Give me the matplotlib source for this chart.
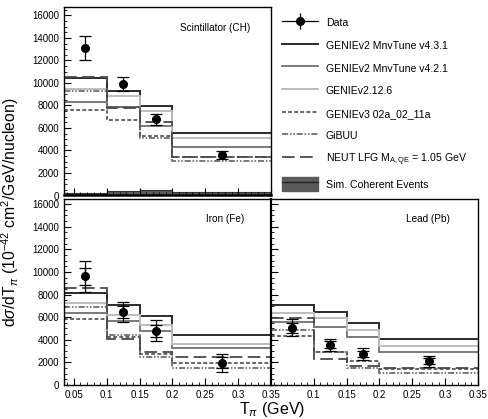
import numpy as np
import matplotlib
matplotlib.use("Agg")
import matplotlib.pyplot as plt
from matplotlib.lines import Line2D
from matplotlib.patches import Patch
from matplotlib.ticker import MultipleLocator

plt.rcParams['font.family'] = ['Liberation Sans', 'DejaVu Sans']
plt.rcParams['mathtext.fontset'] = 'custom'
plt.rcParams['mathtext.rm'] = 'Liberation Sans'
plt.rcParams['mathtext.it'] = 'Liberation Sans:italic'

# pion kinetic energy bins (GeV)
edges = [0.035, 0.1, 0.15, 0.2, 0.35]
centers = [0.0675, 0.125, 0.175, 0.275]

# measured cross sections, 10^-42 cm^2/GeV/nucleon
ch_data = [13100, 9900, 6780, 3600]
ch_tot = [1050, 620, 480, 360]
fe_data = [9600, 6460, 4800, 1960]
fe_stat = [750, 500, 550, 480]
fe_tot = [1380, 900, 950, 820]
pb_data = [5050, 3550, 2750, 2110]
pb_stat = [420, 300, 300, 280]
pb_tot = [760, 520, 500, 480]

# model predictions
ch_v431 = [10400, 9300, 7920, 5560]
ch_v421 = [8350, 7850, 6150, 4300]
ch_g2126 = [9450, 8800, 7480, 5080]
ch_g3 = [7600, 6750, 5300, 3400]
ch_gibuu = [9300, 7900, 5100, 3050]
ch_neut = [10500, 7800, 6500, 3450]
ch_coh = [180, 380, 460, 350]

fe_v431 = [8160, 7100, 6100, 4460]
fe_v421 = [6400, 5670, 4800, 3290]
fe_g2126 = [7280, 6220, 5300, 3670]
fe_g3 = [5840, 4250, 2750, 1960]
fe_gibuu = [6900, 4400, 2450, 1525]
fe_neut = [8600, 4050, 2950, 2440]

pb_v431 = [7080, 6480, 5500, 4040]
pb_v421 = [5580, 5170, 4280, 2935]
pb_g2126 = [6370, 5900, 4840, 3480]
pb_g3 = [4330, 2935, 2130, 1400]
pb_gibuu = [4900, 2935, 1540, 1020]
pb_neut = [5900, 2270, 1700, 1525]

styles = {
    'v431': dict(color='#2b2b2b', lw=1.4, ls='-'),
    'v421': dict(color='#7a7a7a', lw=1.4, ls='-'),
    'g2126': dict(color='#bdbdbd', lw=1.4, ls='-'),
    'g3': dict(color='#3a3a3a', lw=1.1, ls=(0, (2.5, 1.5))),
    'gibuu': dict(color='#555555', lw=1.1, ls=(0, (4, 1.2, 1, 1.2, 1, 1.2))),
    'neut': dict(color='#4a4a4a', lw=1.3, ls=(0, (7, 3))),
}

W, H = 489, 419
fig = plt.figure(figsize=(W / 100, H / 100), dpi=100)


def px_axes(x0, y0, x1, y1):
    return fig.add_axes([x0 / W, 1 - y1 / H, (x1 - x0) / W, (y1 - y0) / H])


ax_ch = px_axes(64, 7, 271, 195.5)
ax_fe = px_axes(64, 199, 271, 385)
ax_pb = px_axes(271, 199, 478, 385)


def draw_panel(ax, models, data, stat, tot, title, title_x, coh=None):
    if coh is not None:
        ax.stairs(coh, edges, fill=True, color='#5a5a5a', zorder=1)
        ax.stairs(coh, edges, color='#333333', lw=0.8, zorder=1)
    for key, vals in models:
        ax.stairs(vals, edges, baseline=None, zorder=2, **styles[key])
    ax.errorbar(centers, data, yerr=tot, fmt='o', color='black', ms=5.5,
                elinewidth=0.9, capsize=4, capthick=0.9, zorder=4)
    if stat is not None:
        ax.errorbar(centers, data, yerr=stat, fmt='none', color='black',
                    elinewidth=0.9, capsize=4, capthick=0.9, zorder=4)
    ax.set_xlim(edges[0], edges[-1])
    ax.xaxis.set_major_locator(MultipleLocator(0.05))
    ax.xaxis.set_minor_locator(MultipleLocator(0.01))
    ax.yaxis.set_major_locator(MultipleLocator(2000))
    ax.yaxis.set_minor_locator(MultipleLocator(500))
    ax.tick_params(which='both', direction='in', labelsize=7, top=False, right=False)
    ax.tick_params(which='major', length=5, width=0.8)
    ax.tick_params(which='minor', length=2.5, width=0.6)
    for sp in ax.spines.values():
        sp.set_linewidth(1.0)
    ax.text(title_x, 0.89, title, transform=ax.transAxes, ha='center', va='center', fontsize=7.2)


draw_panel(ax_ch, [('v431', ch_v431), ('v421', ch_v421), ('g2126', ch_g2126),
                   ('g3', ch_g3), ('gibuu', ch_gibuu), ('neut', ch_neut)],
           ch_data, None, ch_tot, 'Scintillator (CH)', 0.73, coh=ch_coh)
draw_panel(ax_fe, [('v431', fe_v431), ('v421', fe_v421), ('g2126', fe_g2126),
                   ('g3', fe_g3), ('gibuu', fe_gibuu), ('neut', fe_neut)],
           fe_data, fe_stat, fe_tot, 'Iron (Fe)', 0.78)
draw_panel(ax_pb, [('v431', pb_v431), ('v421', pb_v421), ('g2126', pb_g2126),
                   ('g3', pb_g3), ('gibuu', pb_gibuu), ('neut', pb_neut)],
           pb_data, pb_stat, pb_tot, 'Lead (Pb)', 0.76)

ax_ch.set_ylim(0, 16750)
ax_ch.tick_params(labelbottom=False)
ax_ch.spines['bottom'].set_linewidth(1.8)
for ax in (ax_fe, ax_pb):
    ax.set_ylim(0, 16450)
ax_pb.tick_params(labelleft=False)
ax_pb.set_xticks([0.1, 0.15, 0.2, 0.25, 0.3, 0.35])
ax_pb.set_xticklabels(['0.1', '0.15', '0.2', '0.25', '0.3', '0.35'])
ax_fe.set_xticks([0.05, 0.1, 0.15, 0.2, 0.25, 0.3, 0.35])
ax_fe.set_xticklabels(['0.05', '0.1', '0.15', '0.2', '0.25', '0.3', '0.35'])
ax_pb.spines['left'].set_linewidth(1.6)

fig.text(10 / W, 1 - 212 / H, r'd$\sigma$/dT$_{\pi}$ (10$^{-42}$ cm$^{2}$/GeV/nucleon)',
         rotation=90, ha='center', va='center', fontsize=11.3)
fig.text(272 / W, 1 - 409 / H, r'T$_{\pi}$ (GeV)', ha='center', va='center', fontsize=11.5)

# data entry: horizontal line with marker plus a vertical error tick
data_handle = (Line2D([], [], color='black', marker='o', ms=5.5, lw=0.9),
               Line2D([], [], color='black', marker='|', ms=11, mew=0.9, lw=0))
# coherent entry: filled box with a dark line through it
coh_handle = (Patch(facecolor='#5a5a5a', edgecolor='#5a5a5a'),
              Line2D([], [], color='#222222', lw=0.9))
handles = [
    data_handle,
    Line2D([], [], **styles['v431']),
    Line2D([], [], **styles['v421']),
    Line2D([], [], **styles['g2126']),
    Line2D([], [], **styles['g3']),
    Line2D([], [], **styles['gibuu']),
    Line2D([], [], **styles['neut']),
    coh_handle,
]
labels = ['Data', 'GENIEv2 MnvTune v4.3.1', 'GENIEv2 MnvTune v4.2.1', 'GENIEv2.12.6',
          'GENIEv3 02a_02_11a', 'GiBUU', r'NEUT LFG M$_{\mathrm{A,QE}}$ = 1.05 GeV',
          'Sim. Coherent Events']
fig.legend(handles, labels, loc='upper left', bbox_to_anchor=(282 / W, 1 - 16 / H),
           frameon=False, fontsize=7.6, handlelength=3.4, handleheight=1.6,
           labelspacing=0.86, handletextpad=0.75, borderaxespad=0, borderpad=0)

fig.savefig('out.png', dpi=100)
